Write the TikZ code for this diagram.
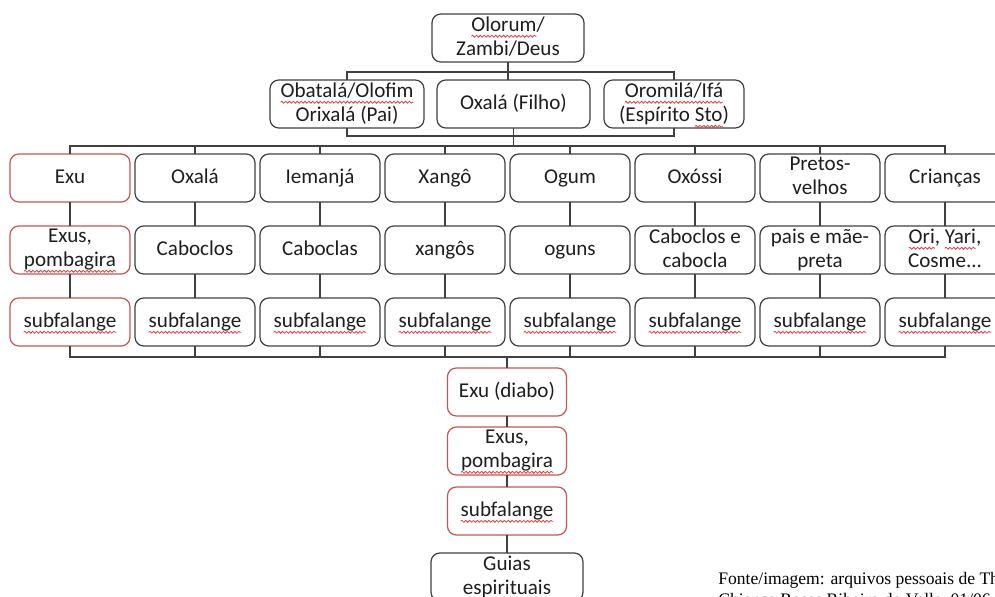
\documentclass[tikz,border=0pt]{standalone}
\usepackage{fontspec}
\setmainfont{Carlito}
\newfontfamily\fontefont{Liberation Serif}
\usepackage{xcolor}
\usetikzlibrary{positioning, calc, decorations.pathmorphing}
\definecolor{boxgray}{RGB}{64,64,64}
\definecolor{exured}{RGB}{200,84,84}
\definecolor{spellred}{RGB}{225,60,60}
\definecolor{txtcolor}{RGB}{30,30,30}
% red wavy underline of the spell checker
\newcommand{\spellwave}[1]{\tikz[baseline=(sw.base)]{%
    \node[rectangle, draw=none, fill=none, inner sep=0pt, outer sep=0pt,
          minimum width=0pt, minimum height=0pt, anchor=base,
          execute at begin node={}, execute at end node={}] (sw) {#1};
    \draw[overlay, spellred, line width=0.45pt, rounded corners=0pt, decorate,
          decoration={snake, amplitude=0.55pt, segment length=2.2pt}]
          ([yshift=-2.6pt]sw.base west) -- ([yshift=-2.6pt]sw.base east);}}
\newcommand{\boxstrut}{\rule[-2.4pt]{0pt}{11.3pt}}
\tikzset{
    box/.style={
        rectangle, draw=boxgray, line width=0.7pt, rounded corners=5pt,
        minimum width=2.4cm, minimum height=0.96cm, inner xsep=1pt, inner ysep=0pt,
        outer sep=0pt, align=center, text=txtcolor,
        font=\fontsize{12}{13.7}\selectfont,
        execute at begin node=\boxstrut, execute at end node=\boxstrut
    },
    redbox/.style={box, draw=exured},
    link/.style={draw=boxgray, line width=0.7pt}
}
\begin{document}
\begin{tikzpicture}

\useasboundingbox (0,0) rectangle (19.9,-11.92);
\clip (0,0) rectangle (19.9,-11.92);

% Top
\node[box, minimum width=3.04cm] (olorum) at (10.16,-0.76) {\spellwave{Olorum}/\\Zambi/Deus};

% Second level
\node[box, minimum width=3.06cm] (filho) at (10.27,-2.08) {Oxalá (Filho)};
\node[box, minimum width=3.08cm, left=0.26cm of filho] (obatala) {\spellwave{Obatalá/Olofim}\\Orixalá (Pai)};
\node[box, minimum width=2.8cm, right=0.28cm of filho] (oromila) {\spellwave{Oromilá/Ifá}\\(Espírito \spellwave{Sto})};

% Orixas
\node[redbox] (exu) at (1.4,-3.56) {Exu};
\node[box, right=0.1cm of exu] (oxala) {Oxalá};
\node[box, right=0.1cm of oxala] (iemanja) {Iemanjá};
\node[box, right=0.1cm of iemanja] (xango) {Xangô};
\node[box, right=0.1cm of xango] (ogum) {Ogum};
\node[box, right=0.1cm of ogum] (oxossi) {Oxóssi};
\node[box, right=0.1cm of oxossi] (pretos) {Pretos-\\velhos};
\node[box, right=0.1cm of pretos] (criancas) {Crianças};

% Falanges
\node[redbox, below=0.48cm of exu] (exus) {Exus,\\\spellwave{pombagira}};
\node[box, below=0.48cm of oxala] (caboclos) {Caboclos};
\node[box, below=0.48cm of iemanja] (caboclas) {Caboclas};
\node[box, below=0.48cm of xango] (xangos) {xangôs};
\node[box, below=0.48cm of ogum] (oguns) {oguns};
\node[box, below=0.48cm of oxossi] (cabocla) {Caboclos e\\cabocla};
\node[box, below=0.48cm of pretos] (paismae) {pais e mãe-\\preta};
\node[box, below=0.48cm of criancas] (ori) {\spellwave{Ori}, \spellwave{Yari},\\Cosme...};

% Subfalanges
\node[redbox, below=0.48cm of exus] (exusub) {\spellwave{subfalange}};
\node[box, below=0.48cm of caboclos] (oxalasub) {\spellwave{subfalange}};
\node[box, below=0.48cm of caboclas] (iemanjasub) {\spellwave{subfalange}};
\node[box, below=0.48cm of xangos] (xangosub) {\spellwave{subfalange}};
\node[box, below=0.48cm of oguns] (ogumsub) {\spellwave{subfalange}};
\node[box, below=0.48cm of cabocla] (oxossisub) {\spellwave{subfalange}};
\node[box, below=0.48cm of paismae] (pretossub) {\spellwave{subfalange}};
\node[box, below=0.48cm of ori] (criancassub) {\spellwave{subfalange}};

% Bottom chain
\node[redbox, minimum width=2.38cm] (diabo) at (10.14,-7.84) {Exu (diabo)};
\node[redbox, minimum width=2.38cm, below=0.22cm of diabo] (diaboexus) {Exus,\\\spellwave{pombagira}};
\node[redbox, minimum width=2.38cm, below=0.24cm of diaboexus] (diabosub) {\spellwave{subfalange}};
\node[box, minimum width=3.04cm, below=0.36cm of diabosub] (guias) {Guias\\espirituais};

% Source
\node[anchor=base west, align=left, inner sep=0pt, text=black,
      font=\fontefont\fontsize{10}{11.4}\selectfont] (fonte) at (14.36,-12.1)
      {Fonte/imagem: arquivos pessoais de Thaís\\Chianca Rosas Ribeiro do Valle, 01/06};

% Bus lines
\coordinate (busA) at ($(olorum.south)+(0,-0.2)$);
\coordinate (busB) at ($(filho.south)+(0,-0.36)$);
\coordinate (busC) at ($(xangosub.south)+(0,-0.22)$);

\draw[link] (olorum.south) -- (olorum.south |- filho.north);
\draw[link] (obatala.north) |- (busA) -| (oromila.north);
\draw[link] (obatala.south) -- ++(0,-0.16) -| (oromila.south);
\draw[link] (filho.south) -- (busB);

\draw[link] (exu.north) |- (busB) -| (criancas.north);
\draw[link] (oxala.north) -- (oxala.north |- busB);
\draw[link] (iemanja.north) -- (iemanja.north |- busB);
\draw[link] (xango.north) -- (xango.north |- busB);
\draw[link] (ogum.north) -- (ogum.north |- busB);
\draw[link] (oxossi.north) -- (oxossi.north |- busB);
\draw[link] (pretos.north) -- (pretos.north |- busB);

% Columns
\draw[link] (exu) -- (exus) -- (exusub);
\draw[link] (oxala) -- (caboclos) -- (oxalasub);
\draw[link] (iemanja) -- (caboclas) -- (iemanjasub);
\draw[link] (xango) -- (xangos) -- (xangosub);
\draw[link] (ogum) -- (oguns) -- (ogumsub);
\draw[link] (oxossi) -- (cabocla) -- (oxossisub);
\draw[link] (pretos) -- (paismae) -- (pretossub);
\draw[link] (criancas) -- (ori) -- (criancassub);

\draw[link] (exusub.south) |- (busC) -| (criancassub.south);
\draw[link] (oxalasub.south) -- (oxalasub.south |- busC);
\draw[link] (iemanjasub.south) -- (iemanjasub.south |- busC);
\draw[link] (xangosub.south) -- (busC);
\draw[link] (ogumsub.south) -- (ogumsub.south |- busC);
\draw[link] (oxossisub.south) -- (oxossisub.south |- busC);
\draw[link] (pretossub.south) -- (pretossub.south |- busC);

\draw[link] (diabo.north |- busC) -- (diabo.north);
\draw[link] (diabo) -- (diaboexus) -- (diabosub) -- (guias);

\end{tikzpicture}
\end{document}
